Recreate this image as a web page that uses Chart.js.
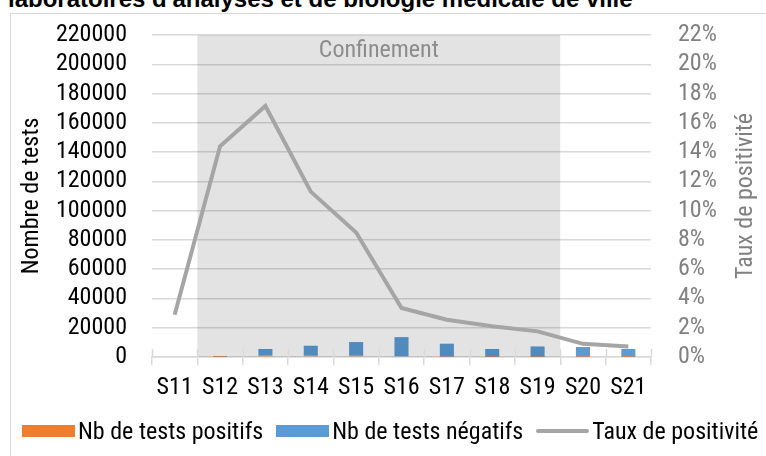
<!DOCTYPE html>
<html lang="fr">
<head>
<meta charset="UTF-8">
<title>Tests et taux de positivité</title>
<script src="https://cdn.jsdelivr.net/npm/chart.js"></script>
<style>
  html, body { margin: 0; padding: 0; background: #fff; overflow: hidden; }
  .frame {
    position: absolute; left: 10px; top: 13px; width: 800px; height: 500px;
    border: 1.5px solid #d9d9d9;
  }
  .cut-title {
    position: absolute; left: 8px; top: -15px; line-height: 24px;
    font: bold 24px 'Liberation Sans', Arial, sans-serif; color: #000; white-space: nowrap;
  }
  .chart-box { position: absolute; left: 0; top: 0; width: 766px; height: 456px; }
  #legend {
    position: absolute; left: 22px; top: 415px; height: 32px;
    display: flex; align-items: center; white-space: nowrap;
    font: 24px 'Roboto Condensed', 'Liberation Sans Narrow', sans-serif; color: #000;
  }
  .item { display: flex; align-items: center; margin-right: 13px; }
  .swatch { width: 53px; height: 12px; margin-right: 3px; }
  .swatch.line { height: 4px; border-radius: 2px; }
</style>
</head>
<body>
<div class="frame"></div>
<div class="cut-title">laboratoires d'analyses et de biologie médicale de ville</div>
<div class="chart-box"><canvas id="chart" width="766" height="456"></canvas></div>
<div id="legend"></div>

<script>
const weeks = ['S11', 'S12', 'S13', 'S14', 'S15', 'S16', 'S17', 'S18', 'S19', 'S20', 'S21'];
const positiveTests = [0, 30, 950, 850, 850, 450, 230, 120, 130, 60, 40];
const negativeTests = [0, 370, 4550, 6850, 9350, 13150, 8870, 5380, 7070, 6740, 5460];
const positivityRate = [2.88, 14.4, 17.15, 11.3, 8.5, 3.35, 2.55, 2.1, 1.75, 0.9, 0.72];

const confinementStart = 'S12';
const confinementEnd = 'S19';
const confinementLabel = 'Confinement';
const rightTitle = 'Taux de positivité';

const FONT = "'Roboto Condensed', 'Liberation Sans Narrow', sans-serif";
const SIZE = 24;

// grey band for the lockdown weeks, drawn over the bars but under the line
const confinementPlugin = {
  id: 'confinement',
  beforeDatasetDraw(chart, args) {
    if (args.index !== 2) return;
    const { ctx, chartArea, scales: { x } } = chart;
    const half = x.width / weeks.length / 2;
    const x0 = x.getPixelForValue(weeks.indexOf(confinementStart)) - half;
    const x1 = x.getPixelForValue(weeks.indexOf(confinementEnd)) + half;
    ctx.save();
    ctx.fillStyle = 'rgba(0,0,0,0.11)';
    ctx.fillRect(x0, chartArea.top, x1 - x0, chartArea.bottom - chartArea.top);
    ctx.fillStyle = '#8c8c8c';
    ctx.font = SIZE + 'px ' + FONT;
    ctx.textAlign = 'center';
    ctx.textBaseline = 'middle';
    ctx.fillText(confinementLabel, (x0 + x1) / 2, chartArea.top + 16);
    ctx.restore();
  },
  afterDraw(chart) {
    const { ctx, chartArea, scales: { x } } = chart;
    const step = x.width / weeks.length;
    ctx.save();
    // upper half of the crossing tick marks
    ctx.strokeStyle = '#d9d9d9';
    ctx.lineWidth = 1.5;
    for (let i = 0; i <= weeks.length; i++) {
      const px = Math.round(x.left + i * step) + 0.5;
      ctx.beginPath();
      ctx.moveTo(px, chartArea.bottom - 8);
      ctx.lineTo(px, chartArea.bottom);
      ctx.stroke();
    }
    // right axis title, reading bottom to top
    ctx.translate(746, (chartArea.top + chartArea.bottom) / 2);
    ctx.rotate(-Math.PI / 2);
    ctx.fillStyle = '#808080';
    ctx.font = SIZE + 'px ' + FONT;
    ctx.textAlign = 'center';
    ctx.textBaseline = 'middle';
    ctx.fillText(rightTitle, 0, 0);
    ctx.restore();
  }
};

const chart = new Chart(document.getElementById('chart'), {
  data: {
    labels: weeks,
    datasets: [
      {
        type: 'bar',
        label: 'Nb de tests positifs',
        data: positiveTests,
        backgroundColor: '#ed7d31',
        yAxisID: 'y',
        categoryPercentage: 1,
        barPercentage: 0.31
      },
      {
        type: 'bar',
        label: 'Nb de tests négatifs',
        data: negativeTests,
        backgroundColor: '#5b9bd5',
        yAxisID: 'y',
        categoryPercentage: 1,
        barPercentage: 0.31
      },
      {
        type: 'line',
        label: 'Taux de positivité',
        data: positivityRate,
        borderColor: '#a5a5a5',
        backgroundColor: '#a5a5a5',
        borderWidth: 4,
        pointRadius: 0,
        tension: 0,
        yAxisID: 'y1',
        order: -1
      }
    ]
  },
  options: {
    responsive: false,
    animation: false,
    layout: { padding: { top: 35, bottom: 49, left: 0, right: 0 } },
    plugins: {
      legend: { display: false },
      tooltip: { enabled: false }
    },
    scales: {
      x: {
        stacked: true,
        offset: true,
        grid: { drawOnChartArea: false, tickLength: 8, color: '#d9d9d9', lineWidth: 1.5 },
        border: { color: '#d9d9d9', width: 1.5 },
        ticks: { color: '#000', font: { size: SIZE, family: FONT }, padding: 9, maxRotation: 0, autoSkip: false },
        afterFit(s) { s.height = 50; }
      },
      y: {
        stacked: true,
        position: 'left',
        min: 0,
        max: 220000,
        ticks: { stepSize: 20000, autoSkip: false, color: '#000', font: { size: SIZE, family: FONT }, padding: 25, callback: v => String(v) },
        grid: { color: '#d9d9d9', lineWidth: 1.5, drawTicks: false },
        border: { display: false },
        title: { display: true, text: 'Nombre de tests', color: '#000', font: { size: SIZE, family: FONT }, padding: { top: 18, bottom: 0 } },
        afterFit(s) { s.width = 152; s.paddingTop = 10; s.paddingBottom = 10; }
      },
      y1: {
        position: 'right',
        min: 0,
        max: 22,
        ticks: { stepSize: 2, autoSkip: false, color: '#808080', font: { size: SIZE, family: FONT }, padding: 27, callback: v => v + '%' },
        grid: { display: false, drawTicks: false },
        border: { display: false },
        afterFit(s) { s.width = 115; s.paddingTop = 10; s.paddingBottom = 10; }
      }
    }
  },
  plugins: [confinementPlugin]
});

// html legend built from the datasets
const legend = document.getElementById('legend');
chart.data.datasets.forEach(ds => {
  const item = document.createElement('div');
  item.className = 'item';
  const sw = document.createElement('span');
  sw.className = ds.type === 'line' ? 'swatch line' : 'swatch';
  sw.style.background = ds.type === 'line' ? ds.borderColor : ds.backgroundColor;
  const txt = document.createElement('span');
  txt.textContent = ds.label;
  item.appendChild(sw);
  item.appendChild(txt);
  legend.appendChild(item);
});
</script>
</body>
</html>
